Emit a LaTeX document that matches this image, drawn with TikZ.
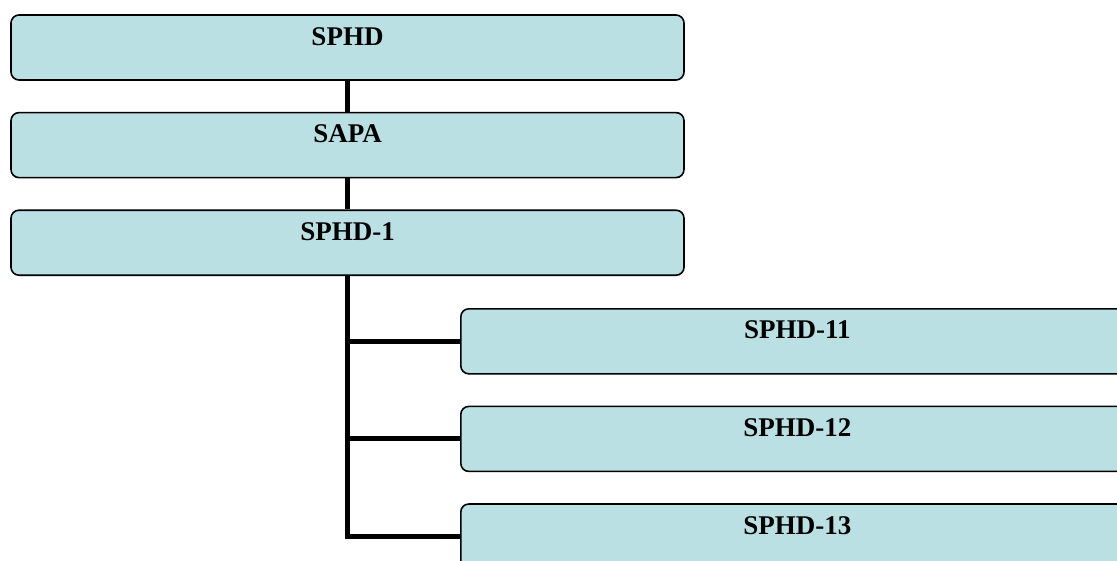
\documentclass[tikz,border=0pt]{standalone}
\usepackage{fontspec}
\setmainfont{Liberation Serif}
\usetikzlibrary{positioning}

\definecolor{boxblue}{RGB}{187,224,227}

\begin{document}
\begin{tikzpicture}[x=1pt, y=1pt,
  orgbox/.style={draw, line width=1.6pt, fill=boxblue, rounded corners=8pt,
    minimum width=673pt, inner sep=0pt, text height=30pt, text depth=35pt,
    font=\fontsize{27}{30}\selectfont\bfseries},
  link/.style={line width=5pt}]

\useasboundingbox (0,0) rectangle (1117,-560);
\clip (0,0) rectangle (1117,-560);

\node[orgbox] (sphd) at (347.5,-47.5) {SPHD};
\node[orgbox] (sapa) [below=31pt of sphd] {SAPA};
\node[orgbox] (sphd1) [below=31pt of sapa] {SPHD-1};
\node[orgbox, anchor=north west] (sphd11) at (460,-308) {SPHD-11};
\node[orgbox] (sphd12) [below=31pt of sphd11] {SPHD-12};
\node[orgbox] (sphd13) [below=31pt of sphd12] {SPHD-13};

\draw[link] (sphd) -- (sapa);
\draw[link] (sapa) -- (sphd1);
\draw[link] (sphd1.south) |- (sphd11.west);
\draw[link] (sphd1.south) |- (sphd12.west);
\draw[link] (sphd1.south) |- (sphd13.west);

\end{tikzpicture}
\end{document}
